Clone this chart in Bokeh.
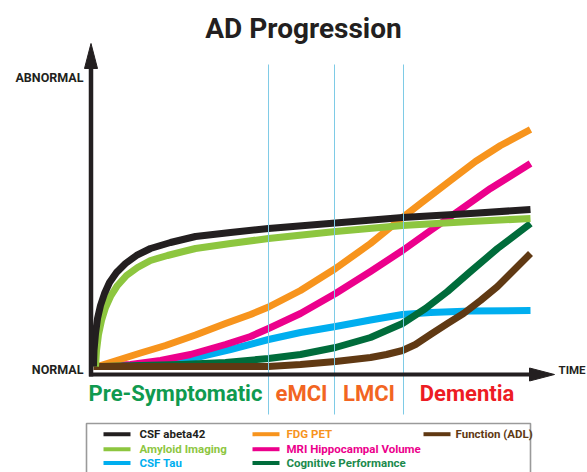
from bokeh.plotting import figure
from bokeh.models import Range1d
from bokeh.embed import file_html
from bokeh.resources import INLINE
from bokeh.core.properties import value

# ---------------- data (time 0-100, abnormality 0-100) ----------------
abeta_t = [0, 0.11, 0.46, 0.92, 1.6, 2.52, 3.66, 5.26, 7.32, 9.84, 13.04, 17.62, 23.34, 31.35,
           40.05, 55.38, 70.71, 86.27, 100]
abeta_v = [0, 6.75, 13.92, 20.25, 25.74, 30.8, 35.44, 39.66, 43.46, 46.84, 49.79, 52.32, 54.85, 56.54,
           58.23, 60.55, 62.87, 64.56, 66.24]

amyloid_t = [0.46, 0.69, 1.14, 1.83, 2.75, 3.89, 5.49, 7.55, 10.07, 13.04, 16.93, 23.34, 31.35,
             40.05, 55.38, 70.71, 86.27, 100]
amyloid_v = [0, 6.75, 13.5, 19.41, 24.89, 29.54, 34.18, 38.4, 41.77, 44.73, 46.84, 49.79, 51.9,
             54.01, 56.96, 59.49, 61.18, 62.45]

tau_t = [1.6, 10.76, 17.62, 24.49, 31.35, 40.05, 47.37, 55.38, 63.39, 70.71, 77.12, 86.27, 100]
tau_v = [0, 0.42, 1.69, 4.22, 7.17, 11.39, 14.35, 16.88, 19.62, 21.94, 22.78, 23.42, 23.63]

fdg_t = [0.92, 4.58, 10.76, 16.48, 23.34, 30.21, 35.93, 40.05, 47.37, 55.38, 63.39, 70.71, 74.83,
         81.69, 87.41, 93.14, 100]
fdg_v = [0, 2.11, 5.7, 8.86, 13.29, 18.14, 21.94, 25.11, 32.07, 41.35, 51.9, 62.87, 68.78,
         78.48, 86.5, 93.25, 100]

mri_t = [0.92, 8.47, 15.33, 22.2, 30.21, 35.93, 40.05, 47.37, 55.38, 63.39, 70.71, 77.12, 83.98, 90.85, 100]
mri_v = [0, 0.84, 2.53, 5.06, 9.28, 12.66, 16.03, 22.36, 30.8, 40.08, 48.95, 57.38, 66.24, 75.11, 85.65]

cog_t = [1.6, 10.76, 19.91, 30.2, 40.05, 47.37, 55.38, 63.39, 70.71, 75.97, 81.01, 86.27, 92.45, 100]
cog_v = [0, 0.42, 0.84, 1.69, 3.38, 5.06, 8.02, 12.24, 18.14, 24.47, 31.65, 40.08, 49.79, 60.34]

adl_t = [0, 40.05, 47.37, 55.38, 63.39, 67.05, 70.71, 73.68, 77.12, 81.01, 84.67, 88.56, 92.45, 100]
adl_v = [0, 0, 0.84, 2.11, 3.8, 5.06, 6.75, 9.28, 13.5, 18.14, 22.36, 27.85, 33.76, 47.68]

phase_names = ["Pre-Symptomatic", "eMCI", "LMCI", "Dementia"]
phase_edges = [-0.7, 40.05, 55.15, 70.94, 100]

series_names = ["CSF abeta42", "Amyloid Imaging", "CSF Tau",
                "FDG PET", "MRI Hippocampal Volume", "Cognitive Performance",
                "Function (ADL)"]

# ---------------- styling / layout ----------------
W, H = 587, 472
OX, OY = 93.0, 366.0        # page pixel of (time 0, level 0)
SX, SY = 4.37, 2.37         # page pixels per data unit


def dx(px):
    return (px - OX) / SX


def dy(py):
    return (OY - py) / SY


FONT = value("Roboto")
INK = "#231f20"
C = {
    "CSF abeta42": "#231f20",
    "Amyloid Imaging": "#8dc63f",
    "CSF Tau": "#00aeef",
    "FDG PET": "#f7941d",
    "MRI Hippocampal Volume": "#ec008c",
    "Cognitive Performance": "#006c3b",
    "Function (ADL)": "#603913",
}
TXT_C = dict(C)
TXT_C["Cognitive Performance"] = "#1b8a4c"
PHASE_C = ["#0f9a4f", "#f26522", "#f26522", "#ed1c24"]

p = figure(width=W, height=H, output_backend="svg", toolbar_location=None,
           x_range=Range1d(dx(0), dx(W)), y_range=Range1d(dy(H), dy(0)),
           min_border=0, outline_line_color=None)
p.axis.visible = False
p.grid.visible = False
p.background_fill_color = "white"
p.border_fill_color = "white"

# curves (bottom to top)
curves = [
    (tau_t, tau_v, "CSF Tau"),
    (mri_t, mri_v, "MRI Hippocampal Volume"),
    (fdg_t, fdg_v, "FDG PET"),
    (cog_t, cog_v, "Cognitive Performance"),
    (adl_t, adl_v, "Function (ADL)"),
    (amyloid_t, amyloid_v, "Amyloid Imaging"),
    (abeta_t, abeta_v, "CSF abeta42"),
]
for t, v, name in curves:
    p.line(t, v, line_color=C[name], line_width=7, line_join="round", line_cap="butt")

# phase boundaries
for e in phase_edges[1:-1]:
    p.segment(x0=[e], x1=[e], y0=[dy(414)], y1=[dy(64)], line_color="#7ecbe6", line_width=1)

# axes with arrow heads
p.segment(x0=[dx(90.5)], x1=[dx(90.5)], y0=[dy(376)], y1=[dy(64)], line_color=INK, line_width=4.5)
p.patch([dx(90.5), dx(84), dx(97)], [dy(43), dy(68), dy(68)], fill_color=INK, line_color=INK)
p.segment(x0=[dx(88.5)], x1=[dx(532)], y0=[dy(374)], y1=[dy(374)], line_color=INK, line_width=4)
p.patch([dx(554), dx(529), dx(529)], [dy(374), dy(367.5), dy(380.5)], fill_color=INK, line_color=INK)

# title and axis words
p.text(x=[dx(303)], y=[dy(28)], text=["AD Progression"], text_font=FONT, text_font_size="28px",
       text_font_style="bold", text_color=INK, text_align="center", text_baseline="middle")
p.text(x=[dx(83)], y=[dy(77)], text=["ABNORMAL"], text_font=FONT, text_font_size="12.5px",
       text_font_style="bold", text_color=INK, text_align="right", text_baseline="middle")
p.text(x=[dx(83)], y=[dy(368.5)], text=["NORMAL"], text_font=FONT, text_font_size="12.5px",
       text_font_style="bold", text_color=INK, text_align="right", text_baseline="middle")
p.text(x=[dx(558)], y=[dy(369)], text=["TIME"], text_font=FONT, text_font_size="11.5px",
       text_font_style="bold", text_color=INK, text_align="left", text_baseline="middle")

# phase labels centred between boundaries
mids = [(phase_edges[i] + phase_edges[i + 1]) / 2 for i in range(4)]
mids[0] = dx(175)
p.text(x=mids, y=[dy(393)] * 4, text=phase_names, text_font=FONT, text_font_size="22px",
       text_font_style="bold", text_color=PHASE_C, text_align="center", text_baseline="middle")

# legend box
p.quad(left=[dx(86)], right=[dx(530)], top=[dy(423)], bottom=[dy(490)],
       fill_color=None, line_color="#9a9a9a", line_width=1.6)
cols = [(103, 139), (252, 286), (423, 455)]
rows = [433.7, 448.7, 462.5]
for i, name in enumerate(series_names):
    ci, ri = divmod(i, 3)
    gx, tx = cols[ci]
    ry = rows[ri]
    p.segment(x0=[dx(gx)], x1=[dx(gx + 27)], y0=[dy(ry)], y1=[dy(ry)],
              line_color=C[name], line_width=4)
    p.text(x=[dx(tx)], y=[dy(ry)], text=[name], text_font=FONT, text_font_size="11.5px",
           text_font_style="bold", text_color=TXT_C[name], text_align="left",
           text_baseline="middle")

open("out.html", "w").write(file_html(p, INLINE))
